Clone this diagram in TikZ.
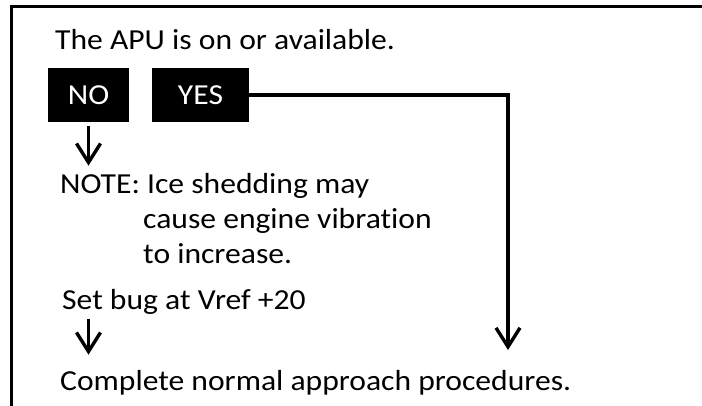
\documentclass[tikz,border=0pt]{standalone}
\usepackage{fontspec}
\setmainfont{Carlito}[FakeStretch=1.09,RawFeature={-liga;-clig;-calt;-dlig}]
\usetikzlibrary{positioning,arrows.meta}

\begin{document}
\begin{tikzpicture}[x=1pt,y=-1pt,
	txt/.style={inner sep=0pt,anchor=base west,font=\fontsize{29}{35}\selectfont},
	answer/.style={fill=black,text=white,inner sep=0pt,minimum height=54pt,font=\fontsize{29}{35}\selectfont},
	arr/.style={line width=3.4pt,-{Straight Barb[length=19pt,width=24pt]}}]
\useasboundingbox (0,0) rectangle (702,406);
\draw[line width=3pt] (702,6.5) -- (11.5,6.5) -- (11.5,406);
		\node[txt] (apu) at (55,50) {The APU is on or available.};
		\node[answer,minimum width=81pt] (no) at (88.5,95) {NO};
		\node[answer,minimum width=97pt] (yes) at (200.5,95) {YES};
		\node[txt] (note) at (60,194) {NOTE: Ice shedding may};
		\node[txt] (cause) at (143,229) {cause engine vibration};
		\node[txt] (incr) at (143,264) {to increase.};
		\node[txt] (set) at (62,310) {Set bug at Vref +20};
		\node[txt] (done) at (60,390) {Complete normal approach procedures.};
	\coordinate (yesend) at (508,350);
\draw[arr,shorten <=4pt,shorten >=8pt] (no.south) -- (no.south |- note.north);
\draw[arr,shorten <=4pt,shorten >=15pt] (no.south |- set.south) -- (no.south |- done.north);
\draw[arr] (yes.east) -| (yesend);
		\end{tikzpicture}
\end{document}
